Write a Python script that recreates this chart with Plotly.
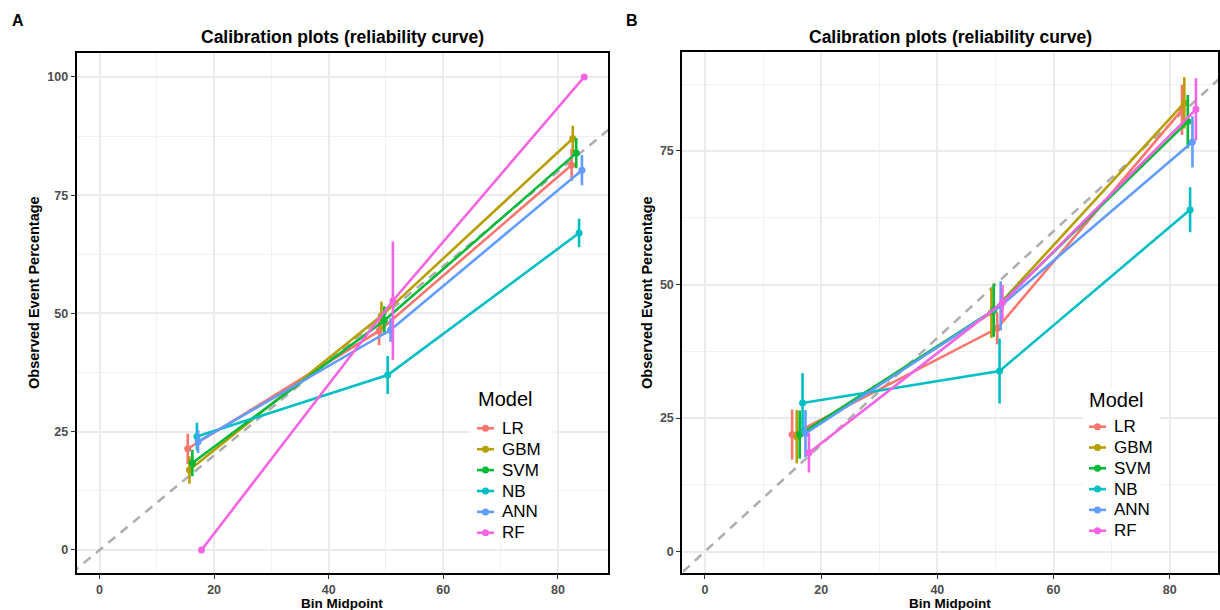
import plotly.graph_objects as go

MODELS = ["LR", "GBM", "SVM", "NB", "ANN", "RF"]
COLORS = ["#F8766D", "#B79F00", "#00BA38", "#00BFC4", "#619CFF", "#F564E3"]

# Panel A: bin midpoint (x), observed event % (y), error half-width per model, 3 bins
A_X = [[15.4, 48.8, 82.4], [15.7, 49.2, 82.6], [16.2, 49.7, 83.2],
       [17.0, 50.3, 83.7], [17.2, 50.8, 84.2], [17.8, 51.2, 84.6]]
A_Y = [[21.4, 46.3, 81.4], [16.9, 49.5, 87.0], [18.4, 48.5, 83.9],
       [24.0, 37.0, 67.0], [22.9, 46.5, 80.3], [0.0, 52.7, 100.0]]
A_ERR = [[3.2, 3.0, 3.4], [2.9, 3.0, 2.7], [2.8, 3.0, 3.2],
         [2.9, 4.0, 3.0], [2.4, 2.5, 3.2], [0.0, 12.5, 0.0]]

# Panel B
B_X = [[15.0, 50.3, 82.1], [15.8, 49.3, 82.5], [16.3, 49.7, 83.1],
       [16.8, 50.7, 83.5], [17.3, 50.9, 83.9], [17.9, 51.2, 84.5]]
B_Y = [[21.9, 41.8, 82.7], [21.5, 44.7, 84.0], [21.9, 45.2, 80.5],
       [27.8, 33.8, 64.0], [22.1, 46.0, 76.7], [18.5, 46.6, 82.8]]
B_ERR = [[4.7, 3.0, 4.7], [5.0, 4.7, 4.8], [4.5, 5.0, 5.0],
         [5.6, 6.1, 4.2], [4.4, 4.6, 4.8], [3.7, 3.3, 5.8]]

X_TICKS = [0, 20, 40, 60, 80]
A_Y_TICKS = [0, 25, 50, 75, 100]
B_Y_TICKS = [0, 25, 50, 75]
DIAG = [-20, 120]

TITLE = "Calibration plots (reliability curve)"
XLABEL = "Bin Midpoint"
YLABEL = "Observed Event Percentage"
LEGEND_TITLE = "Model"

FONT = "Liberation Sans, Arial, Helvetica, sans-serif"
W, H = 1220, 610

fig = go.Figure()


def add_panel(xs, ys, errs, xa, ya):
    fig.add_trace(go.Scatter(x=DIAG, y=DIAG, mode="lines", xaxis=xa, yaxis=ya,
                             line=dict(color="#ADADAD", width=2.5, dash="9px,7px"),
                             showlegend=False, hoverinfo="skip"))
    for m, c, x, y, e in zip(MODELS, COLORS, xs, ys, errs):
        fig.add_trace(go.Scatter(
            x=x, y=y, name=m, mode="lines+markers", xaxis=xa, yaxis=ya,
            line=dict(color=c, width=2.6), marker=dict(color=c, size=7),
            error_y=dict(type="data", array=e, visible=True, width=0,
                         thickness=2.6, color=c),
            showlegend=False, cliponaxis=False))


add_panel(A_X, A_Y, A_ERR, "x", "y")
add_panel(B_X, B_Y, B_ERR, "x2", "y2")

axis_common = dict(showline=True, mirror=True, linecolor="black", linewidth=2,
                   ticks="outside", ticklen=4, tickwidth=1.2, tickcolor="#333333",
                   showgrid=True, gridcolor="#EBEBEB", gridwidth=1.8, zeroline=False,
                   tickfont=dict(family=FONT, size=12.5, color="#4D4D4D", weight="bold"))


def px_x(p):
    return p / W


def px_y(p):
    return 1 - p / H


xa_dom = [px_x(76.6), px_x(608.3)]
ya_dom = [px_y(572.7), px_y(53.3)]
xb_dom = [px_x(682.3), px_x(1218)]
yb_dom = [px_y(573.4), px_y(52.2)]

minor_x = dict(dtick=10, tick0=0, showgrid=True, gridcolor="#F1F1F1", gridwidth=1)
minor_y = dict(dtick=12.5, tick0=0, showgrid=True, gridcolor="#F1F1F1", gridwidth=1)

fig.update_layout(
    width=W, height=H, margin=dict(l=0, r=0, t=0, b=0),
    paper_bgcolor="white", plot_bgcolor="white",
    font=dict(family=FONT, color="black"),
    showlegend=False,
    xaxis=dict(domain=xa_dom, range=[-4.0, 88.8], tickvals=X_TICKS, anchor="y",
               minor=minor_x, **axis_common),
    yaxis=dict(domain=ya_dom, range=[-4.8, 105], tickvals=A_Y_TICKS, anchor="x",
               minor=minor_y, **axis_common),
    xaxis2=dict(domain=xb_dom, range=[-3.9, 88.3], tickvals=X_TICKS, anchor="y2",
                minor=minor_x, **axis_common),
    yaxis2=dict(domain=yb_dom, range=[-4.1, 93.5], tickvals=B_Y_TICKS, anchor="x2",
                minor=minor_y, **axis_common),
)

# white legend backgrounds (between grid and traces)
fig.add_shape(type="rect", xref="x", yref="y", x0=64.7, x1=79.5, y0=1.9, y1=34.2,
              fillcolor="white", line=dict(width=0), layer="between")
fig.add_shape(type="rect", xref="x2", yref="y2", x0=65.1, x1=78.3, y0=2.0, y1=30.6,
              fillcolor="white", line=dict(width=0), layer="between")

ann = []
for cx, letter, lx, ylx in [((76.6 + 608.3) / 2, "A", 18, 34), ((682.3 + 1218) / 2, "B", 632, 647)]:
    ann.append(dict(text=TITLE, x=px_x(cx), y=px_y(37), xref="paper", yref="paper",
                    showarrow=False, xanchor="center", yanchor="middle",
                    font=dict(family=FONT, size=17.5, color="black", weight="bold")))
    ann.append(dict(text=letter, x=px_x(lx), y=px_y(20), xref="paper", yref="paper",
                    showarrow=False, xanchor="center", yanchor="middle",
                    font=dict(family=FONT, size=16, color="black", weight="bold")))
    ann.append(dict(text=XLABEL, x=px_x(cx), y=px_y(603.5), xref="paper", yref="paper",
                    showarrow=False, xanchor="center", yanchor="middle",
                    font=dict(family=FONT, size=13.5, color="black", weight="bold")))
    ann.append(dict(text=YLABEL, x=px_x(ylx), y=px_y(293), xref="paper", yref="paper",
                    showarrow=False, xanchor="center", yanchor="middle", textangle=-90,
                    font=dict(family=FONT, size=14.5, color="black", weight="bold")))

# legends drawn as key glyphs + text (ggplot-style inset legend)
for title_x, title_y, key_x0, first_y, step in [(476, 399, 477, 428.3, 20.9),
                                                 (1087, 400, 1089, 426.7, 20.8)]:
    ann.append(dict(text=LEGEND_TITLE, x=px_x(title_x), y=px_y(title_y), xref="paper",
                    yref="paper", showarrow=False, xanchor="left", yanchor="middle",
                    font=dict(family=FONT, size=20, color="black")))
    for i, (m, c) in enumerate(zip(MODELS, COLORS)):
        yy = first_y + i * step
        fig.add_shape(type="line", xref="paper", yref="paper",
                      x0=px_x(key_x0), x1=px_x(key_x0 + 17), y0=px_y(yy), y1=px_y(yy),
                      line=dict(color=c, width=2.6))
        fig.add_shape(type="circle", xref="paper", yref="paper",
                      x0=px_x(key_x0 + 8.5 - 3.5), x1=px_x(key_x0 + 8.5 + 3.5),
                      y0=px_y(yy + 3.5), y1=px_y(yy - 3.5),
                      fillcolor=c, line=dict(width=0))
        ann.append(dict(text=m, x=px_x(key_x0 + 23), y=px_y(yy), xref="paper", yref="paper",
                        showarrow=False, xanchor="left", yanchor="middle",
                        font=dict(family=FONT, size=17, color="black")))

fig.update_layout(annotations=ann)

fig.write_html("out.html", config={"displayModeBar": False},
               post_script="document.body.style.margin='0px';")
